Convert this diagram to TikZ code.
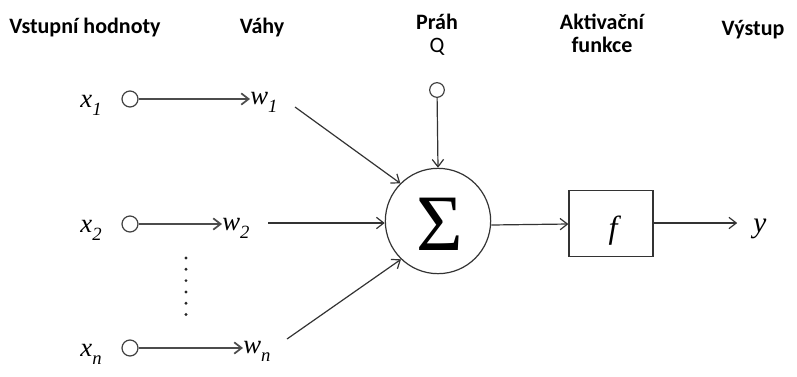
\documentclass[tikz,border=0pt]{standalone}
\usepackage{fontspec}
\setsansfont{Carlito}
\newfontfamily\tms{Liberation Serif}
\usetikzlibrary{arrows.meta}
\newcommand{\sbx}[1]{\raisebox{-0.32em}{\fontsize{14}{14}\selectfont #1}}
\begin{document}
\begin{tikzpicture}[x=0.75pt,y=-0.75pt,
  head/.style={font=\sffamily\bfseries\fontsize{16.5}{18}\selectfont, anchor=base, inner sep=0pt},
  headq/.style={font=\sffamily\fontsize{16.5}{18}\selectfont, anchor=base, inner sep=0pt},
  sym/.style={font=\tms\itshape\fontsize{20}{24}\selectfont, anchor=base, inner sep=1pt},
  port/.style={circle, draw=black!75, line width=0.9pt, minimum size=12pt, inner sep=0pt},
  conn/.style={draw=black!80, line width=0.9pt, -{Straight Barb[length=5.5pt,width=8.5pt]}},
  inconn/.style={draw=black!70, line width=1.3pt, -{Straight Barb[length=5.5pt,width=8.5pt]}}
]
\useasboundingbox (0,0) rectangle (797,376);
% headings
\node[head] (h1) at (85,33) {Vstupní hodnoty};
\node[head] (h2) at (262,33) {Váhy};
\node[head] (h3) at (437,29) {Práh};
\node[headq] (h3q) at (437,52) {Q};
\node[head] (h4) at (602,29) {Aktivační};
\node[head] (h4b) at (602,52) {funkce};
\node[head] (h5) at (753,35) {Výstup};
% inputs
\node[sym] (x1) at (91,107) {x\sbx{1}};
\node[sym] (x2) at (91,232) {x\sbx{2}};
\node[sym] (xn) at (91,356) {x\sbx{n}};
\node[port] (c1) at (130,99) {};
\node[port] (c2) at (130,224) {};
\node[port] (cn) at (130,348) {};
\node[sym, anchor=base west, inner sep=0pt] (w1) at (250,104) {w\sbx{1}};
\node[sym, anchor=base west, inner sep=0pt] (w2) at (222,230) {w\sbx{2}};
\node[sym, anchor=base west, inner sep=0pt] (wn) at (243,353) {w\sbx{n}};
\draw[inconn] (c1) -- (c1 -| w1.west);
\draw[inconn] (c2) -- (c2 -| w2.west);
\draw[inconn] (cn) -- (cn -| wn.west);
% dots
\foreach \i in {0,...,5} \fill[black!85] (186,258+11.3*\i) circle (1.2pt);
% summation
\node[circle, draw=black!80, line width=0.9pt, minimum size=79pt, inner sep=0pt] (sig) at (438,221) {};
\node[font=\tms\fontsize{60}{62}\selectfont, inner sep=0pt] (sigma) at (440,224) {Σ};
\node[port, minimum size=11pt] (th) at (437,90) {};
\draw[conn] (th) -- (sig.north);
\coordinate (w1e) at (295,107);
\coordinate (w2e) at (268,223);
\coordinate (wne) at (287,339);
\draw[conn] (w1e) -- (sig.135);
\draw[conn] (w2e) -- (sig.west |- w2e);
\draw[conn] (wne) -- (sig.226);
% activation
\node[draw=black!80, line width=0.9pt, minimum width=63pt, minimum height=50pt] (box) at (611,223.5) {};
\node[font=\tms\itshape\fontsize{24}{26}\selectfont, inner sep=0pt, anchor=base] (f) at (613,238) {f};
\node[font=\tms\itshape\fontsize{22}{24}\selectfont, inner sep=1pt, anchor=base] (y) at (760,232) {y};
\draw[conn] (sig.east |- 0,225) -- (box.west |- 0,224);
\draw[conn, shorten >=11pt] (box.east |- 0,223) -- (y.west |- 0,223);
\end{tikzpicture}
\end{document}
